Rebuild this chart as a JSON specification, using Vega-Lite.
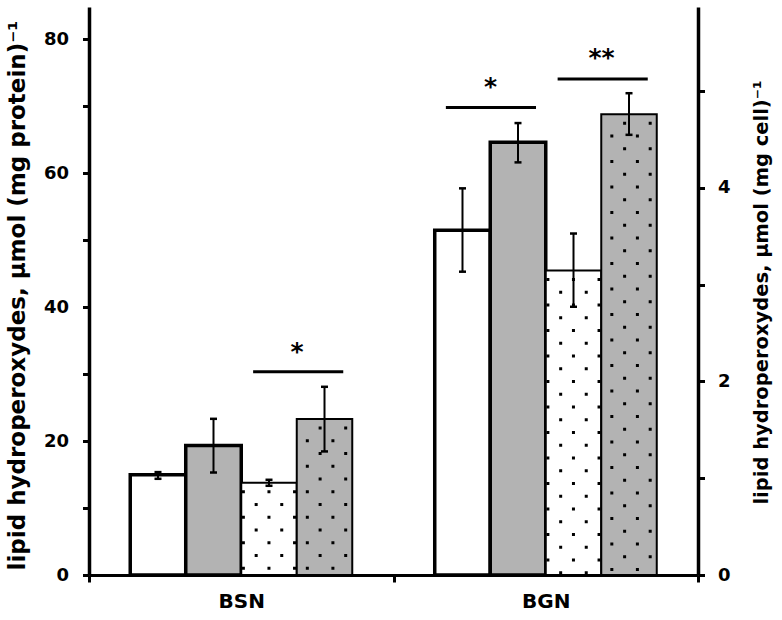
{
  "$schema": "https://vega.github.io/schema/vega-lite/v6.json",
  "width": 609,
  "height": 568,
  "autosize": {"type": "none"},
  "padding": {"left": 89, "top": 7, "right": 84, "bottom": 45},
  "background": "white",
  "config": {
    "view": {"stroke": null},
    "font": "DejaVu Sans",
    "tick": {"opacity": 1},
    "axis": {
      "grid": false,
      "domainColor": "black",
      "tickColor": "black",
      "labelColor": "black",
      "titleColor": "black",
      "labelFont": "DejaVu Sans",
      "labelFontWeight": "bold",
      "titleFont": "DejaVu Sans",
      "titleFontWeight": "bold",
      "zindex": 1
    }
  },
  "datasets": {
    "protein": [
      {"group": "BSN", "series": "s1", "value": 14.97, "lo": 14.37, "hi": 15.37},
      {"group": "BSN", "series": "s2", "value": 19.34, "lo": 15.31, "hi": 23.33},
      {"group": "BGN", "series": "s1", "value": 51.49, "lo": 45.31, "hi": 57.76},
      {"group": "BGN", "series": "s2", "value": 64.63, "lo": 61.64, "hi": 67.51}
    ],
    "cell": [
      {"group": "BSN", "series": "s3", "value": 0.953, "lo": 0.922, "hi": 0.984},
      {"group": "BSN", "series": "s4", "value": 1.612, "lo": 1.277, "hi": 1.945},
      {"group": "BGN", "series": "s3", "value": 3.147, "lo": 2.772, "hi": 3.529},
      {"group": "BGN", "series": "s4", "value": 4.762, "lo": 4.549, "hi": 4.979}
    ],
    "sigProtein": [
      {"group": "BGN", "line": 69.85, "star": 71.73, "label": "*"}
    ],
    "sigCell": [
      {"group": "BSN", "line": 2.1, "star": 2.224, "label": "*"},
      {"group": "BGN", "line": 5.127, "star": 5.258, "label": "**"}
    ]
  },
  "resolve": {"scale": {"y": "independent"}},
  "layer": [
    {
      "data": {"name": "protein"},
      "layer": [
        {
          "mark": {"type": "bar", "stroke": "black", "strokeWidth": 3.5},
          "encoding": {
            "x": {"field": "group", "type": "nominal", "sort": ["BSN", "BGN"],
              "scale": {"paddingInner": 0, "paddingOuter": 0},
              "axis": {"title": null, "labelAngle": 0, "labelFontSize": 20, "labelPadding": 9, "tickSize": 7, "tickWidth": 3, "domainWidth": 3, "tickBand": "extent"}},
            "xOffset": {"field": "series", "type": "nominal", "sort": ["s1", "s2", "s3", "s4"],
              "scale": {"domain": ["s1", "s2", "s3", "s4"], "paddingInner": 0, "paddingOuter": 0.743}},
            "y": {"field": "value", "type": "quantitative",
              "scale": {"domain": [0, 84.85], "nice": false},
              "axis": {"title": "lipid hydroperoxydes, µmol (mg protein)⁻¹", "values": [0, 10, 20, 30, 40, 50, 60, 70, 80],
                "format": "d",
                "labelExpr": "datum.value % 20 === 0 ? datum.label : ''",
                "labelFontSize": 18, "labelPadding": 14, "tickSize": 6.5, "tickWidth": 3, "domainWidth": 3.5,
                "titleFontSize": 23, "titleAngle": 270, "titleX": -65, "titleY": 288, "titleBaseline": "alphabetic", "titleAlign": "center"}},
            "fill": {"field": "series", "type": "nominal",
              "scale": {"domain": ["s1", "s2", "s3", "s4"], "range": ["#ffffff", "#b3b3b3", "#ffffff", "#b3b3b3"]},
              "legend": null}
          }
        },
        {
          "mark": {"type": "rule", "color": "black", "strokeWidth": 2},
          "encoding": {
            "x": {"field": "group", "type": "nominal", "sort": ["BSN", "BGN"]},
            "xOffset": {"field": "series", "type": "nominal", "sort": ["s1", "s2", "s3", "s4"]},
            "y": {"field": "lo", "type": "quantitative"},
            "y2": {"field": "hi"}
          }
        },
        {
          "mark": {"type": "tick", "color": "black", "size": 7, "thickness": 2.5, "orient": "horizontal", "opacity": 1},
          "encoding": {
            "x": {"field": "group", "type": "nominal", "sort": ["BSN", "BGN"]},
            "xOffset": {"field": "series", "type": "nominal", "sort": ["s1", "s2", "s3", "s4"]},
            "y": {"field": "lo", "type": "quantitative"}
          }
        },
        {
          "mark": {"type": "tick", "color": "black", "size": 7, "thickness": 2.5, "orient": "horizontal", "opacity": 1},
          "encoding": {
            "x": {"field": "group", "type": "nominal", "sort": ["BSN", "BGN"]},
            "xOffset": {"field": "series", "type": "nominal", "sort": ["s1", "s2", "s3", "s4"]},
            "y": {"field": "hi", "type": "quantitative"}
          }
        },
        {
          "data": {"name": "sigProtein"},
          "mark": {"type": "rule", "color": "black", "strokeWidth": 3},
          "encoding": {
            "x": {"field": "group", "type": "nominal", "sort": ["BSN", "BGN"], "bandPosition": 0.172},
            "x2": {"field": "group", "type": "nominal", "bandPosition": 0.468},
            "y": {"field": "line", "type": "quantitative"}
          }
        },
        {
          "data": {"name": "sigProtein"},
          "mark": {"type": "text", "color": "black", "fontSize": 25, "fontWeight": "bold", "font": "DejaVu Sans", "baseline": "alphabetic", "align": "center"},
          "encoding": {
            "x": {"field": "group", "type": "nominal", "sort": ["BSN", "BGN"], "bandPosition": 0.319},
            "y": {"field": "star", "type": "quantitative"},
            "text": {"field": "label", "type": "nominal"}
          }
        }
      ]
    },
    {
      "data": {"name": "cell"},
      "layer": [
        {
          "mark": {"type": "bar", "stroke": "black", "strokeWidth": 2},
          "encoding": {
            "x": {"field": "group", "type": "nominal", "sort": ["BSN", "BGN"]},
            "xOffset": {"field": "series", "type": "nominal", "sort": ["s1", "s2", "s3", "s4"]},
            "y": {"field": "value", "type": "quantitative",
              "scale": {"domain": [0, 5.87], "nice": false},
              "axis": {"orient": "right", "title": "lipid hydroperoxydes, µmol (mg cell)⁻¹", "values": [0, 1, 2, 3, 4, 5],
                "format": "d",
                "labelExpr": "datum.value % 2 === 0 ? datum.label : ''",
                "labelFontSize": 18, "labelPadding": 13, "tickSize": 6.5, "tickWidth": 3, "domainWidth": 3.5,
                "titleFontSize": 19.5, "titleAngle": 270, "titleX": 69, "titleY": 285, "titleBaseline": "alphabetic", "titleAlign": "center"}},
            "fill": {"field": "series", "type": "nominal", "legend": null}
          }
        },
        {
          "transform": [{"filter": "datum.series === 's3'"}],
          "mark": {"type": "rule", "color": "black", "strokeWidth": 3, "strokeDash": [3, 22.5], "strokeDashOffset": 18},
          "encoding": {
            "x": {"field": "group", "type": "nominal", "sort": ["BSN", "BGN"], "bandPosition": 0.507},
            "y": {"field": "value", "type": "quantitative"},
            "y2": {"datum": 0}
          }
        },
        {
          "transform": [{"filter": "datum.series === 's3'"}],
          "mark": {"type": "rule", "color": "black", "strokeWidth": 3, "strokeDash": [3, 22.5], "strokeDashOffset": 5.25},
          "encoding": {
            "x": {"field": "group", "type": "nominal", "sort": ["BSN", "BGN"], "bandPosition": 0.549},
            "y": {"field": "value", "type": "quantitative"},
            "y2": {"datum": 0}
          }
        },
        {
          "transform": [{"filter": "datum.series === 's3'"}],
          "mark": {"type": "rule", "color": "black", "strokeWidth": 3, "strokeDash": [3, 22.5], "strokeDashOffset": 18},
          "encoding": {
            "x": {"field": "group", "type": "nominal", "sort": ["BSN", "BGN"], "bandPosition": 0.591},
            "y": {"field": "value", "type": "quantitative"},
            "y2": {"datum": 0}
          }
        },
        {
          "transform": [{"filter": "datum.series === 's3'"}],
          "mark": {"type": "rule", "color": "black", "strokeWidth": 3, "strokeDash": [3, 22.5], "strokeDashOffset": 5.25},
          "encoding": {
            "x": {"field": "group", "type": "nominal", "sort": ["BSN", "BGN"], "bandPosition": 0.633},
            "y": {"field": "value", "type": "quantitative"},
            "y2": {"datum": 0}
          }
        },
        {
          "transform": [{"filter": "datum.series === 's3'"}],
          "mark": {"type": "rule", "color": "black", "strokeWidth": 3, "strokeDash": [3, 22.5], "strokeDashOffset": 18},
          "encoding": {
            "x": {"field": "group", "type": "nominal", "sort": ["BSN", "BGN"], "bandPosition": 0.675},
            "y": {"field": "value", "type": "quantitative"},
            "y2": {"datum": 0}
          }
        },
        {
          "transform": [{"filter": "datum.series === 's4'"}],
          "mark": {"type": "rule", "color": "black", "strokeWidth": 3, "strokeDash": [3, 22.5], "strokeDashOffset": 5.25},
          "encoding": {
            "x": {"field": "group", "type": "nominal", "sort": ["BSN", "BGN"], "bandPosition": 0.717},
            "y": {"field": "value", "type": "quantitative"},
            "y2": {"datum": 0}
          }
        },
        {
          "transform": [{"filter": "datum.series === 's4'"}],
          "mark": {"type": "rule", "color": "black", "strokeWidth": 3, "strokeDash": [3, 22.5], "strokeDashOffset": 18},
          "encoding": {
            "x": {"field": "group", "type": "nominal", "sort": ["BSN", "BGN"], "bandPosition": 0.759},
            "y": {"field": "value", "type": "quantitative"},
            "y2": {"datum": 0}
          }
        },
        {
          "transform": [{"filter": "datum.series === 's4'"}],
          "mark": {"type": "rule", "color": "black", "strokeWidth": 3, "strokeDash": [3, 22.5], "strokeDashOffset": 5.25},
          "encoding": {
            "x": {"field": "group", "type": "nominal", "sort": ["BSN", "BGN"], "bandPosition": 0.801},
            "y": {"field": "value", "type": "quantitative"},
            "y2": {"datum": 0}
          }
        },
        {
          "transform": [{"filter": "datum.series === 's4'"}],
          "mark": {"type": "rule", "color": "black", "strokeWidth": 3, "strokeDash": [3, 22.5], "strokeDashOffset": 18},
          "encoding": {
            "x": {"field": "group", "type": "nominal", "sort": ["BSN", "BGN"], "bandPosition": 0.843},
            "y": {"field": "value", "type": "quantitative"},
            "y2": {"datum": 0}
          }
        },
        {
          "mark": {"type": "rule", "color": "black", "strokeWidth": 2},
          "encoding": {
            "x": {"field": "group", "type": "nominal", "sort": ["BSN", "BGN"]},
            "xOffset": {"field": "series", "type": "nominal", "sort": ["s1", "s2", "s3", "s4"]},
            "y": {"field": "lo", "type": "quantitative"},
            "y2": {"field": "hi"}
          }
        },
        {
          "mark": {"type": "tick", "color": "black", "size": 7, "thickness": 2.5, "orient": "horizontal", "opacity": 1},
          "encoding": {
            "x": {"field": "group", "type": "nominal", "sort": ["BSN", "BGN"]},
            "xOffset": {"field": "series", "type": "nominal", "sort": ["s1", "s2", "s3", "s4"]},
            "y": {"field": "lo", "type": "quantitative"}
          }
        },
        {
          "mark": {"type": "tick", "color": "black", "size": 7, "thickness": 2.5, "orient": "horizontal", "opacity": 1},
          "encoding": {
            "x": {"field": "group", "type": "nominal", "sort": ["BSN", "BGN"]},
            "xOffset": {"field": "series", "type": "nominal", "sort": ["s1", "s2", "s3", "s4"]},
            "y": {"field": "hi", "type": "quantitative"}
          }
        },
        {
          "data": {"name": "sigCell"},
          "mark": {"type": "rule", "color": "black", "strokeWidth": 3},
          "encoding": {
            "x": {"field": "group", "type": "nominal", "sort": ["BSN", "BGN"], "bandPosition": 0.539},
            "x2": {"field": "group", "type": "nominal", "bandPosition": 0.835},
            "y": {"field": "line", "type": "quantitative"}
          }
        },
        {
          "data": {"name": "sigCell"},
          "mark": {"type": "text", "color": "black", "fontSize": 25, "fontWeight": "bold", "font": "DejaVu Sans", "baseline": "alphabetic", "align": "center"},
          "encoding": {
            "x": {"field": "group", "type": "nominal", "sort": ["BSN", "BGN"], "bandPosition": 0.683},
            "y": {"field": "star", "type": "quantitative"},
            "text": {"field": "label", "type": "nominal"}
          }
        }
      ]
    }
  ]
}
